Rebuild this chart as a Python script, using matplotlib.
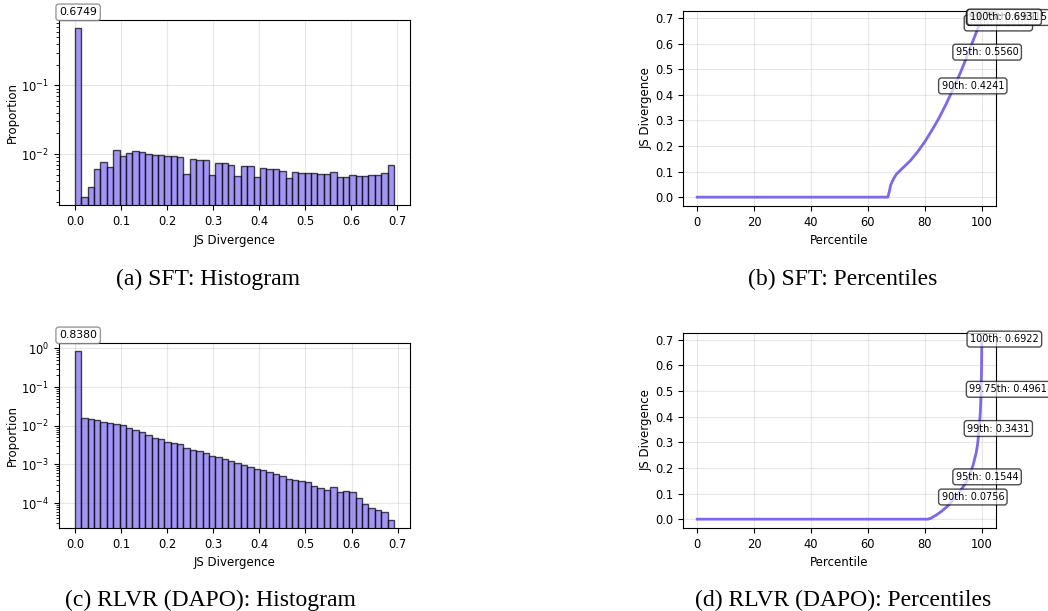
import numpy as np
import matplotlib
matplotlib.use("Agg")
import matplotlib.pyplot as plt

# ---- data ----
# histogram proportions, 50 bins from 0 to the max JS value
sft_max = 0.6931
sft_hist = [0.6749, 2.37e-3, 3.3e-3, 6.05e-3, 7.6e-3, 6.5e-3, 0.01157, 9.25e-3, 0.01045, 0.01107,
            0.0107, 0.0101, 9.78e-3, 9.57e-3, 9.35e-3, 9.25e-3, 9.0e-3, 5.06e-3, 8.36e-3, 8.09e-3,
            8.18e-3, 4.89e-3, 7.49e-3, 7.3e-3, 7.0e-3, 4.73e-3, 6.76e-3, 6.76e-3, 4.57e-3, 6.18e-3,
            5.98e-3, 5.98e-3, 5.65e-3, 4.47e-3, 5.47e-3, 5.35e-3, 5.35e-3, 5.22e-3, 5.1e-3, 5.06e-3,
            5.41e-3, 4.62e-3, 4.62e-3, 4.89e-3, 4.84e-3, 4.73e-3, 4.89e-3, 5.0e-3, 5.22e-3, 6.92e-3]

rlvr_max = 0.6922
rlvr_hist = [0.8380, 0.01614, 0.01462, 0.01433, 0.01245, 0.01173, 0.01084, 0.0102, 8.7e-3, 7.7e-3,
             6.84e-3, 5.83e-3, 4.87e-3, 4.68e-3, 3.91e-3, 3.54e-3, 3.33e-3, 2.73e-3, 2.42e-3, 2.24e-3,
             1.95e-3, 1.69e-3, 1.56e-3, 1.38e-3, 1.2e-3, 1.11e-3, 9.66e-4, 8.75e-4, 7.76e-4, 7.03e-4,
             6.36e-4, 5.64e-4, 5.0e-4, 4.26e-4, 4.02e-4, 3.64e-4, 3.42e-4, 2.8e-4, 2.44e-4, 2.2e-4,
             2.59e-4, 1.95e-4, 2.04e-4, 1.88e-4, 1.39e-4, 9.5e-5, 7.5e-5, 6.65e-5, 5.9e-5, 3.73e-5]

# percentile curves
sft_pct = [0, 67.0, 67.5, 68, 69, 70, 72.5, 75, 77.5, 80, 82.5, 85, 87.5, 90,
           92.5, 95, 97.5, 99, 99.75, 100]
sft_val = [0, 0, 0.022, 0.048, 0.072, 0.090, 0.117, 0.144, 0.178, 0.217, 0.262, 0.31, 0.365, 0.4241,
           0.487, 0.556, 0.628, 0.670, 0.6915, 0.6931]

rlvr_pct = [0, 81, 82, 84, 86, 88, 90, 92, 94, 95, 96, 97, 98, 98.5, 99, 99.5, 99.75, 99.9, 100]
rlvr_val = [0, 0, 0.003, 0.016, 0.032, 0.051, 0.0756, 0.104, 0.135, 0.1544, 0.18, 0.213, 0.258,
            0.29, 0.3431, 0.42, 0.4961, 0.58, 0.6922]

# marked percentiles
sft_marks = [90, 95, 99, 99.75, 100]
sft_mark_vals = [0.4241, 0.5560, 0.6700, 0.6915, 0.6931]
rlvr_marks = [90, 95, 99, 99.75, 100]
rlvr_mark_vals = [0.0756, 0.1544, 0.3431, 0.4961, 0.6922]

captions = ["(a) SFT: Histogram", "(b) SFT: Percentiles",
            "(c) RLVR (DAPO): Histogram", "(d) RLVR (DAPO): Percentiles"]

COL = "mediumslateblue"
TICK = 8.3
LAB = 8.5
ANN = 7

fig = plt.figure(figsize=(10.48, 6.11), dpi=100)


def hist_panel(rect, vals, vmax):
  ax = fig.add_axes(rect)
  edges = np.linspace(0, vmax, len(vals) + 1)
  ax.hist(edges[:-1], bins=edges, weights=vals, color=COL, alpha=0.7,
          edgecolor="black", linewidth=1)
  ax.set_yscale("log")
  ax.set_xlabel("JS Divergence", fontsize=LAB)
  ax.set_ylabel("Proportion", fontsize=LAB, labelpad=2)
  ax.tick_params(labelsize=TICK)
  ax.grid(True, alpha=0.3)
  ax.set_axisbelow(True)
  c0 = (edges[0] + edges[1]) / 2
  ax.annotate("%.4f" % vals[0], (c0, vals[0]), xytext=(0, 8),
              textcoords="offset points", ha="center", va="bottom",
              fontsize=7.8, annotation_clip=False,
              bbox=dict(boxstyle="round,pad=0.3", fc="white", ec="gray", alpha=0.8))
  return ax


def pct_panel(rect, pct, val, marks, mvals):
  ax = fig.add_axes(rect)
  ax.plot(pct, val, color=COL, linewidth=2)
  ax.set_xlabel("Percentile", fontsize=LAB)
  ax.set_ylabel("JS Divergence", fontsize=LAB, labelpad=2)
  ax.tick_params(labelsize=TICK)
  ax.grid(True, alpha=0.3)
  for p, v in zip(marks, mvals):
    lbl = ("%gth: %.4f" % (p, v))
    ax.annotate(lbl, (p, v), xytext=(-8.5, 2), textcoords="offset points",
                ha="left", va="center", fontsize=ANN, annotation_clip=False,
                bbox=dict(boxstyle="round,pad=0.3", fc="white", ec="black", alpha=0.7))
  return ax


hist_panel([0.0563, 0.6637, 0.3349, 0.3036], sft_hist, sft_max)
pct_panel([0.6517, 0.6628, 0.2987, 0.3192], sft_pct, sft_val, sft_marks, sft_mark_vals)
hist_panel([0.0563, 0.1358, 0.3349, 0.3028], rlvr_hist, rlvr_max)
pct_panel([0.6517, 0.1358, 0.2987, 0.3192], rlvr_pct, rlvr_val, rlvr_marks, rlvr_mark_vals)

cap_xy = [(208 / 1048, 1 - 279 / 611), (843 / 1048, 1 - 279 / 611),
          (210 / 1048, 1 - 600 / 611), (843 / 1048, 1 - 600 / 611)]
for txt, (cx, cy) in zip(captions, cap_xy):
  fig.text(cx, cy, txt, ha="center", va="center", fontsize=17,
           family="Liberation Serif")

fig.savefig("out.png", dpi=100)
